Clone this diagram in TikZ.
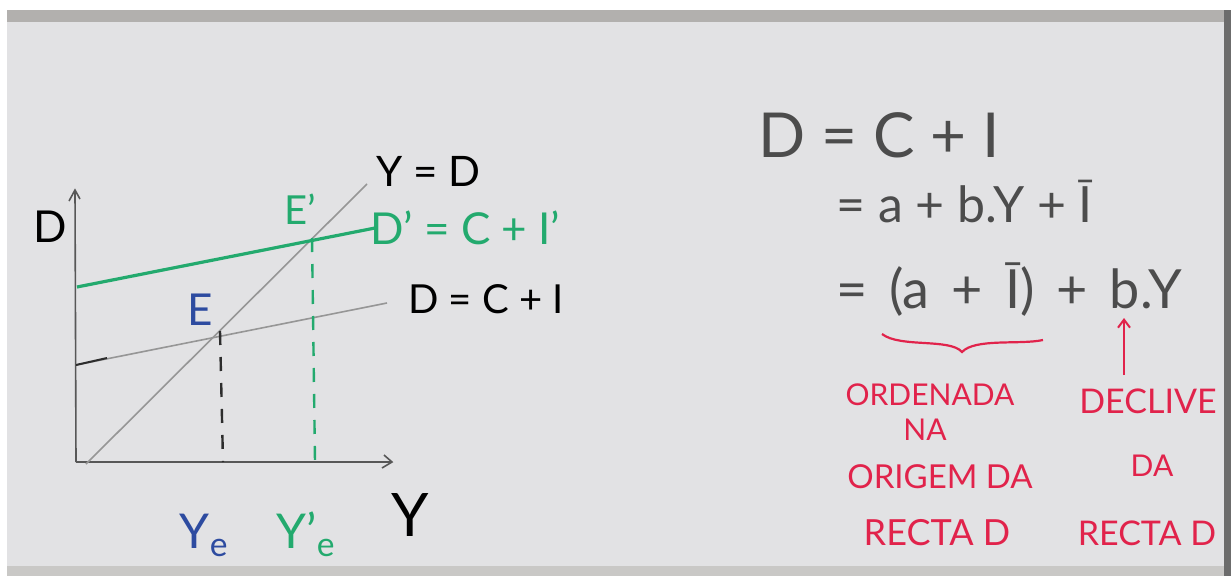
\documentclass[tikz,border=0pt]{standalone}
\usepackage{fontspec}
\setmainfont{Lato}
\usetikzlibrary{arrows.meta}
\definecolor{boardbg}{RGB}{226,226,228}
\definecolor{boardframe}{RGB}{178,176,174}
\definecolor{penblack}{RGB}{45,45,45}
\definecolor{pengray}{RGB}{150,150,150}
\definecolor{pengreen}{RGB}{35,170,110}
\definecolor{penred}{RGB}{225,35,75}
\definecolor{penblue}{RGB}{45,75,160}
\newcommand{\fs}[1]{\fontsize{#1}{#1}\selectfont}
\tikzset{
  axisline/.style={penblack!80, line width=1.6pt},
  curve/.style={pengray, line width=1.6pt},
  dropline/.style={line width=2.4pt, dash pattern=on 14pt off 12pt},
  lbl/.style={inner sep=0pt, anchor=base},
  redtxt/.style={lbl, penred, font=\fs{30}, align=center}
}
\begin{document}
\begin{tikzpicture}[x=1pt,y=-1pt]
% board
\fill[white] (0,0) rectangle (1231,576);
\fill[boardbg] (7,10) rectangle (1231,566);
\fill[boardframe] (7,10) rectangle (1231,22);
\fill[boardframe!70] (7,566) rectangle (1231,576);
\fill[penblack!70] (1224,10) rectangle (1231,576);

% axes
\coordinate (O) at (76,462);
\coordinate (ytop) at (75,190);
\coordinate (xend) at (392,462);
\draw[axisline] (O) -- (ytop);
\draw[axisline] (69,201) -- (ytop) -- (80,199);
\draw[axisline] (O) -- (xend);
\draw[axisline] (384,455) -- (xend) -- (382,468);
\node[lbl, font=\fs{44}] (Dlab) at (50,242) {D};
\node[lbl, font=\fs{60}] (Ylab) at (410,536) {Y};

% lines
\coordinate (E) at (220,331);
\coordinate (E2) at (312,238);
\coordinate (d0) at (76,365);
\coordinate (d1) at (387,303);
\coordinate (g0) at (77,287);
\coordinate (g1) at (375,228);
\coordinate (diag0) at (86,464);
\coordinate (diag) at (367,184);
\draw[curve] (diag0) -- (diag);
\draw[curve] (d0) -- (d1);
\draw[penblack, line width=2pt] (d0) -- (107,358);
\draw[pengreen, line width=3.2pt] (g0) -- (g1);

% drops
\draw[dropline, penblack] (E) -- (223,462);
\draw[dropline, pengreen] (E2) -- (315,462);

% labels
\node[lbl, font=\fs{42}, anchor=base west] (yd) at (376,186) {Y = D};
\node[lbl, font=\fs{40}, anchor=base west] (dci) at (408,313) {D = C + I};
\node[lbl, pengreen, font=\fs{44}, anchor=base west] (dci2) at (370,244) {D' = C + I'};
\node[lbl, penblue, font=\fs{44}] (Elab) at (200,325) {E};
\node[lbl, pengreen, font=\fs{40}] (E2lab) at (300,224) {E'};
\node[lbl, penblue, font=\fs{48}] (ye) at (204,548) {Y\textsubscript{e}};
\node[lbl, pengreen, font=\fs{48}] (ye2) at (306,548) {Y'\textsubscript{e}};

% equations
\node[lbl, penblack!85, font=\fs{62}, anchor=base west] (eq1) at (758,157) {D = C + I};
\node[lbl, penblack!85, font=\fs{50}, anchor=base west] (eq2) at (836,222) {= a + b.Y + Ī};
\node[lbl, penblack!85, font=\fs{54}, anchor=base west] (eq3) at (836,308) {\spaceskip=22pt\relax = (a + Ī) + b.Y};

% annotations
\draw[penred, line width=2.2pt] (882,334) .. controls (900,348) and (950,338) .. (962,352)
  .. controls (975,338) and (1020,345) .. (1043,340);
\coordinate (arrtip) at (1124,318);
\draw[penred, line width=2pt, -{Straight Barb[length=8pt,width=12pt]}] (1124,375) -- (arrtip);
\node[redtxt] (ord1) at (930,405) {ORDENADA};
\node[redtxt] (ord2) at (925,440) {NA};
\node[redtxt, font=\fs{33}] (ord3) at (940,488) {ORIGEM DA};
\node[redtxt, font=\fs{36}] (ord4) at (937,545) {RECTA D};
\node[redtxt, font=\fs{34}] (dec1) at (1148,413) {DECLIVE};
\node[redtxt] (dec2) at (1152,476) {DA};
\node[redtxt, font=\fs{34}] (dec3) at (1147,545) {RECTA D};
\end{tikzpicture}
\end{document}
